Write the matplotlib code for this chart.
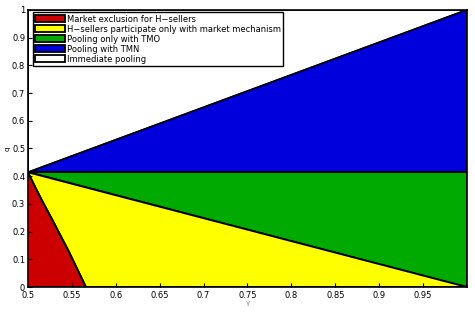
import numpy as np
import matplotlib.pyplot as plt

# boundary data
q_star = 0.414
red_q = [0.414, 0.36, 0.309, 0.25, 0.189, 0.13, 0.069, 0.0]
red_gamma = [0.5, 0.5083, 0.5165, 0.5265, 0.5365, 0.5462, 0.5555, 0.566]
gamma_end = 1.0
tmo_end = 0.0    # yellow/green boundary at gamma = 1
tmn_end = 1.0    # blue/white boundary at gamma = 1

labels = ['Market exclusion for H\u2212sellers',
          'H\u2212sellers participate only with market mechanism',
          'Pooling only with TMO',
          'Pooling with TMN',
          'Immediate pooling']
colors = ['#cc0000', '#ffff00', '#00aa00', '#0000dd', '#ffffff']

fig = plt.figure(figsize=(4.75, 3.2), dpi=100)
ax = fig.add_axes([0.059, 0.103, 0.924, 0.866])

kw = dict(edgecolor='black', linewidth=1.3, joinstyle='round')
# white (immediate pooling)
h_white = ax.fill([0.5, gamma_end, 0.5], [q_star, tmn_end, 1.0], facecolor=colors[4], **kw)
# blue
h_blue = ax.fill([0.5, gamma_end, gamma_end], [q_star, tmn_end, q_star], facecolor=colors[3], **kw)
# green
h_green = ax.fill([0.5, gamma_end, gamma_end], [q_star, q_star, tmo_end], facecolor=colors[2], **kw)
# yellow
h_yel = ax.fill(red_gamma + [gamma_end], red_q + [tmo_end], facecolor=colors[1], **kw)
# red
h_red = ax.fill(red_gamma + [0.5], red_q + [0.0], facecolor=colors[0], **kw)

ax.set_xlim(0.5, 1.0)
ax.set_ylim(0, 1)
ax.set_xticks(np.arange(0.5, 0.96, 0.05))
ax.set_xticklabels(['0.5', '0.55', '0.6', '0.65', '0.7', '0.75', '0.8', '0.85', '0.9', '0.95'])
ax.set_yticks(np.arange(0, 1.01, 0.1))
ax.set_yticklabels(['0', '0.1', '0.2', '0.3', '0.4', '0.5', '0.6', '0.7', '0.8', '0.9', '1'])
ax.tick_params(direction='in', length=3, labelsize=6, pad=2)
ax.tick_params(axis='x', pad=3)
for s in ax.spines.values():
    s.set_linewidth(1.2)
ax.set_xlabel('\u03b3', fontsize=5, color='#888888', labelpad=0)
ax.set_ylabel('q', fontsize=5, labelpad=1)

handles = [h_red[0], h_yel[0], h_green[0], h_blue[0], h_white[0]]
leg = ax.legend(handles, labels, loc='upper left', fontsize=6, fancybox=False,
                edgecolor='black', framealpha=1, borderpad=0.25, labelspacing=0.12,
                handlelength=3.6, handleheight=0.9, handletextpad=0.3,
                borderaxespad=0.3, bbox_to_anchor=(0.005, 1.0))
leg.get_frame().set_linewidth(1.0)

fig.savefig('out.png', dpi=100)
